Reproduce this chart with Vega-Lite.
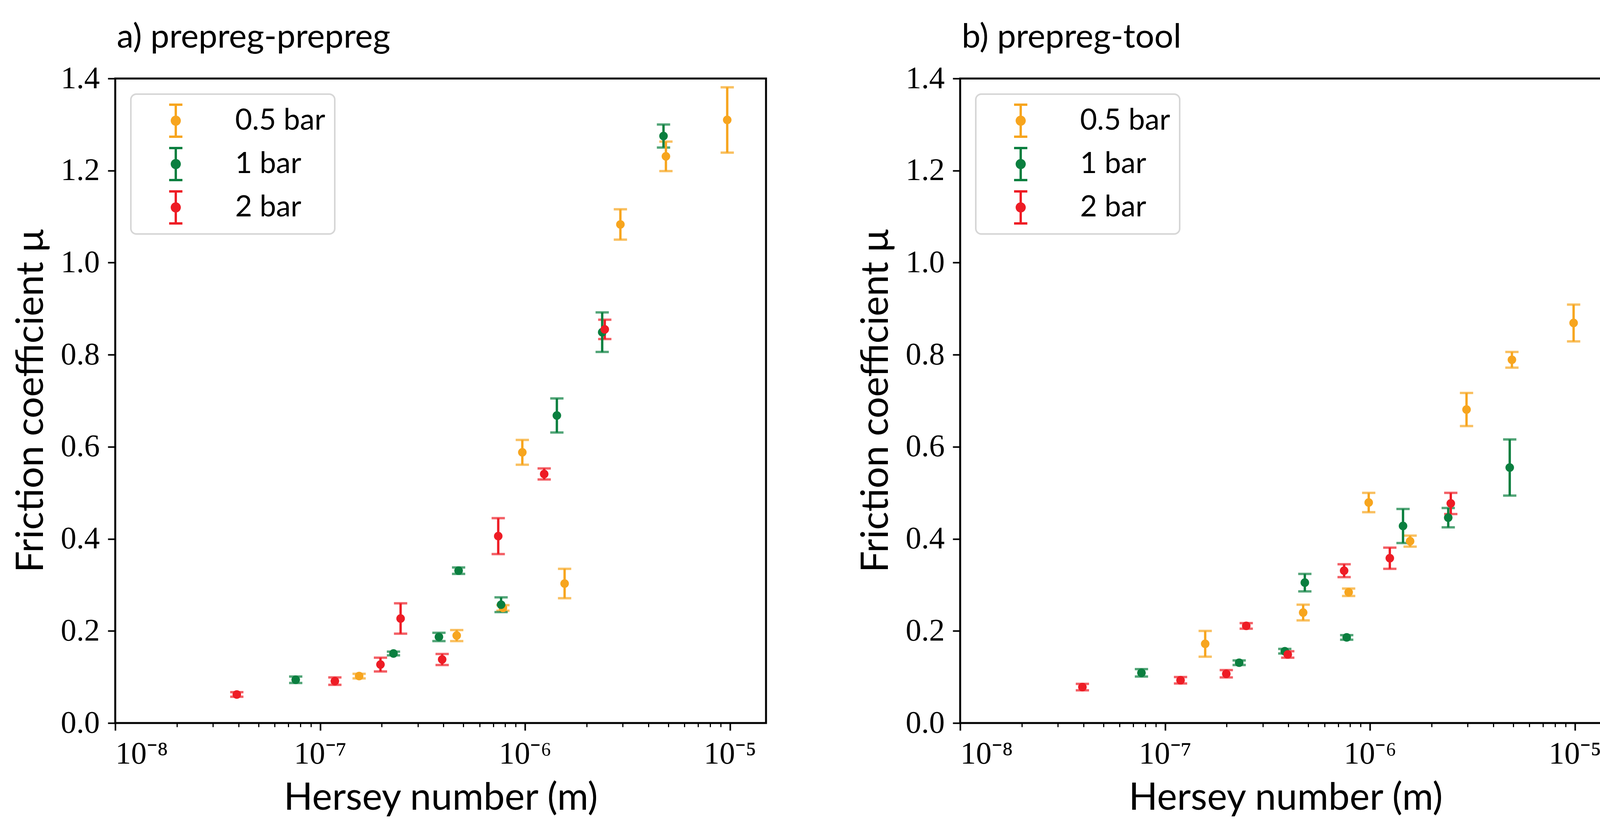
{
  "$schema": "https://vega.github.io/schema/vega-lite/v6.json",
  "background": "white",
  "padding": {"left": 28, "top": 50, "right": 0, "bottom": 0},
  "datasets": {
    "friction": [
      {"p": "a", "s": "0.5 bar", "h": 1.55e-7, "mu": 0.102, "err": 0.005},
      {"p": "a", "s": "0.5 bar", "h": 4.64e-7, "mu": 0.190, "err": 0.012},
      {"p": "a", "s": "0.5 bar", "h": 7.8e-7, "mu": 0.250, "err": 0.006},
      {"p": "a", "s": "0.5 bar", "h": 9.7e-7, "mu": 0.588, "err": 0.027},
      {"p": "a", "s": "0.5 bar", "h": 1.56e-6, "mu": 0.303, "err": 0.032},
      {"p": "a", "s": "0.5 bar", "h": 2.92e-6, "mu": 1.083, "err": 0.033},
      {"p": "a", "s": "0.5 bar", "h": 4.87e-6, "mu": 1.231, "err": 0.032},
      {"p": "a", "s": "0.5 bar", "h": 9.7e-6, "mu": 1.310, "err": 0.071},
      {"p": "a", "s": "1 bar", "h": 7.6e-8, "mu": 0.094, "err": 0.007},
      {"p": "a", "s": "1 bar", "h": 2.28e-7, "mu": 0.151, "err": 0.004},
      {"p": "a", "s": "1 bar", "h": 3.8e-7, "mu": 0.187, "err": 0.009},
      {"p": "a", "s": "1 bar", "h": 4.74e-7, "mu": 0.331, "err": 0.007},
      {"p": "a", "s": "1 bar", "h": 7.64e-7, "mu": 0.257, "err": 0.016},
      {"p": "a", "s": "1 bar", "h": 1.43e-6, "mu": 0.668, "err": 0.037},
      {"p": "a", "s": "1 bar", "h": 2.38e-6, "mu": 0.849, "err": 0.043},
      {"p": "a", "s": "1 bar", "h": 4.74e-6, "mu": 1.275, "err": 0.025},
      {"p": "a", "s": "2 bar", "h": 3.92e-8, "mu": 0.062, "err": 0.005},
      {"p": "a", "s": "2 bar", "h": 1.18e-7, "mu": 0.091, "err": 0.008},
      {"p": "a", "s": "2 bar", "h": 1.97e-7, "mu": 0.127, "err": 0.015},
      {"p": "a", "s": "2 bar", "h": 2.47e-7, "mu": 0.227, "err": 0.033},
      {"p": "a", "s": "2 bar", "h": 3.94e-7, "mu": 0.138, "err": 0.012},
      {"p": "a", "s": "2 bar", "h": 7.4e-7, "mu": 0.406, "err": 0.039},
      {"p": "a", "s": "2 bar", "h": 1.24e-6, "mu": 0.541, "err": 0.012},
      {"p": "a", "s": "2 bar", "h": 2.45e-6, "mu": 0.855, "err": 0.021},
      {"p": "b", "s": "0.5 bar", "h": 1.57e-7, "mu": 0.172, "err": 0.028},
      {"p": "b", "s": "0.5 bar", "h": 4.72e-7, "mu": 0.240, "err": 0.017},
      {"p": "b", "s": "0.5 bar", "h": 7.87e-7, "mu": 0.284, "err": 0.008},
      {"p": "b", "s": "0.5 bar", "h": 9.86e-7, "mu": 0.479, "err": 0.021},
      {"p": "b", "s": "0.5 bar", "h": 1.57e-6, "mu": 0.395, "err": 0.012},
      {"p": "b", "s": "0.5 bar", "h": 2.96e-6, "mu": 0.681, "err": 0.036},
      {"p": "b", "s": "0.5 bar", "h": 4.93e-6, "mu": 0.789, "err": 0.017},
      {"p": "b", "s": "0.5 bar", "h": 9.86e-6, "mu": 0.869, "err": 0.040},
      {"p": "b", "s": "1 bar", "h": 7.67e-8, "mu": 0.109, "err": 0.008},
      {"p": "b", "s": "1 bar", "h": 2.30e-7, "mu": 0.131, "err": 0.005},
      {"p": "b", "s": "1 bar", "h": 3.84e-7, "mu": 0.156, "err": 0.005},
      {"p": "b", "s": "1 bar", "h": 4.81e-7, "mu": 0.305, "err": 0.019},
      {"p": "b", "s": "1 bar", "h": 7.7e-7, "mu": 0.186, "err": 0.005},
      {"p": "b", "s": "1 bar", "h": 1.45e-6, "mu": 0.428, "err": 0.037},
      {"p": "b", "s": "1 bar", "h": 2.41e-6, "mu": 0.446, "err": 0.021},
      {"p": "b", "s": "1 bar", "h": 4.81e-6, "mu": 0.555, "err": 0.061},
      {"p": "b", "s": "2 bar", "h": 3.95e-8, "mu": 0.078, "err": 0.007},
      {"p": "b", "s": "2 bar", "h": 1.19e-7, "mu": 0.093, "err": 0.007},
      {"p": "b", "s": "2 bar", "h": 1.99e-7, "mu": 0.107, "err": 0.008},
      {"p": "b", "s": "2 bar", "h": 2.49e-7, "mu": 0.211, "err": 0.006},
      {"p": "b", "s": "2 bar", "h": 3.97e-7, "mu": 0.149, "err": 0.007},
      {"p": "b", "s": "2 bar", "h": 7.48e-7, "mu": 0.331, "err": 0.014},
      {"p": "b", "s": "2 bar", "h": 1.25e-6, "mu": 0.358, "err": 0.023},
      {"p": "b", "s": "2 bar", "h": 2.48e-6, "mu": 0.477, "err": 0.023}
    ]
  },
  "data": {"name": "friction"},
  "spacing": 227,
  "hconcat": [
    {
      "width": 1666,
      "height": 1650,
      "title": {"text": "a) prepreg-prepreg"},
      "transform": [{"filter": "datum.p == 'a'"}],
      "layer": [
        {
          "mark": {"type": "errorbar", "thickness": 6, "ticks": {"size": 34, "thickness": 6}},
          "encoding": {
            "x": {"field": "h", "type": "quantitative",
                  "scale": {"type": "log", "domain": [1e-8, 1.5e-5], "nice": false},
                  "axis": {"orient": "bottom", "labels": false, "title": null, "tickSize": 10, "tickWidth": 3,
                           "values": [2e-8, 3e-8, 4e-8, 5e-8, 6e-8, 7e-8, 8e-8, 9e-8, 2e-7, 3e-7, 4e-7, 5e-7, 6e-7, 7e-7, 8e-7, 9e-7, 2e-6, 3e-6, 4e-6, 5e-6, 6e-6, 7e-6, 8e-6, 9e-6]}},
            "y": {"field": "mu", "type": "quantitative",
                  "scale": {"domain": [0, 1.4], "nice": false},
                  "axis": {"values": [0, 0.2, 0.4, 0.6, 0.8, 1.0, 1.2, 1.4], "format": ".1f", "labelPadding": 21,
                           "title": "Friction coefficient μ", "titleX": -186, "titleY": 825, "titleAngle": 270, "titleBaseline": "alphabetic"}},
            "yError": {"field": "err"},
            "color": {"field": "s", "type": "nominal",
                      "scale": {"domain": ["0.5 bar", "1 bar", "2 bar"], "range": ["#F7A51E", "#0A7F3F", "#EE1C25"]}}
          }
        },
        {
          "mark": {"type": "point", "filled": true, "opacity": 1, "size": 480},
          "encoding": {
            "x": {"field": "h", "type": "quantitative",
                  "scale": {"type": "log", "domain": [1e-8, 1.5e-5], "nice": false},
                  "axis": {"orient": "bottom", "values": [1e-8, 1e-7, 1e-6, 1e-5],
                           "labelExpr": "'10' + ['⁻⁸', '⁻⁷', '⁻⁶', '⁻⁵'][round(log(datum.value) / LN10) + 8]",
                           "labelBaseline": "alphabetic", "labelPadding": 84,
                           "title": "Hersey number (m)", "titleY": 221, "titleBaseline": "alphabetic"}},
            "y": {"field": "mu", "type": "quantitative",
                  "scale": {"domain": [0, 1.4], "nice": false},
                  "axis": {"values": [0, 0.2, 0.4, 0.6, 0.8, 1.0, 1.2, 1.4], "format": ".1f", "labelPadding": 21,
                           "title": "Friction coefficient μ", "titleX": -186, "titleY": 825, "titleAngle": 270, "titleBaseline": "alphabetic"}},
            "color": {"field": "s", "type": "nominal",
                      "scale": {"domain": ["0.5 bar", "1 bar", "2 bar"], "range": ["#F7A51E", "#0A7F3F", "#EE1C25"]}}
          }
        }
      ],
      "resolve": {"axis": {"x": "independent"}}
    },
    {
      "width": 1666,
      "height": 1650,
      "title": {"text": "b) prepreg-tool"},
      "transform": [{"filter": "datum.p == 'b'"}],
      "layer": [
        {
          "mark": {"type": "errorbar", "thickness": 6, "ticks": {"size": 34, "thickness": 6}},
          "encoding": {
            "x": {"field": "h", "type": "quantitative",
                  "scale": {"type": "log", "domain": [1e-8, 1.5e-5], "nice": false},
                  "axis": {"orient": "bottom", "labels": false, "title": null, "tickSize": 10, "tickWidth": 3,
                           "values": [2e-8, 3e-8, 4e-8, 5e-8, 6e-8, 7e-8, 8e-8, 9e-8, 2e-7, 3e-7, 4e-7, 5e-7, 6e-7, 7e-7, 8e-7, 9e-7, 2e-6, 3e-6, 4e-6, 5e-6, 6e-6, 7e-6, 8e-6, 9e-6]}},
            "y": {"field": "mu", "type": "quantitative",
                  "scale": {"domain": [0, 1.4], "nice": false},
                  "axis": {"values": [0, 0.2, 0.4, 0.6, 0.8, 1.0, 1.2, 1.4], "format": ".1f", "labelPadding": 21,
                           "title": "Friction coefficient μ", "titleX": -186, "titleY": 825, "titleAngle": 270, "titleBaseline": "alphabetic"}},
            "yError": {"field": "err"},
            "color": {"field": "s", "type": "nominal",
                      "scale": {"domain": ["0.5 bar", "1 bar", "2 bar"], "range": ["#F7A51E", "#0A7F3F", "#EE1C25"]}}
          }
        },
        {
          "mark": {"type": "point", "filled": true, "opacity": 1, "size": 480},
          "encoding": {
            "x": {"field": "h", "type": "quantitative",
                  "scale": {"type": "log", "domain": [1e-8, 1.5e-5], "nice": false},
                  "axis": {"orient": "bottom", "values": [1e-8, 1e-7, 1e-6, 1e-5],
                           "labelExpr": "'10' + ['⁻⁸', '⁻⁷', '⁻⁶', '⁻⁵'][round(log(datum.value) / LN10) + 8]",
                           "labelBaseline": "alphabetic", "labelPadding": 84,
                           "title": "Hersey number (m)", "titleY": 221, "titleBaseline": "alphabetic"}},
            "y": {"field": "mu", "type": "quantitative",
                  "scale": {"domain": [0, 1.4], "nice": false},
                  "axis": {"values": [0, 0.2, 0.4, 0.6, 0.8, 1.0, 1.2, 1.4], "format": ".1f", "labelPadding": 21,
                           "title": "Friction coefficient μ", "titleX": -186, "titleY": 825, "titleAngle": 270, "titleBaseline": "alphabetic"}},
            "color": {"field": "s", "type": "nominal",
                      "scale": {"domain": ["0.5 bar", "1 bar", "2 bar"], "range": ["#F7A51E", "#0A7F3F", "#EE1C25"]}}
          }
        }
      ],
      "resolve": {"axis": {"x": "independent"}}
    }
  ],
  "resolve": {"legend": {"color": "independent"}},
  "config": {
    "view": {"stroke": "black", "strokeWidth": 5},
    "title": {"anchor": "start", "frame": "group", "font": "Lato", "fontSize": 86, "fontWeight": "normal",
              "color": "black", "baseline": "alphabetic", "offset": 21, "dx": 4},
    "axis": {"domain": false, "grid": false, "tickColor": "black", "tickWidth": 4, "tickSize": 19,
             "labelFont": "Liberation Serif", "labelFontSize": 80, "labelColor": "black",
             "titleFont": "Lato", "titleFontSize": 97, "titleFontWeight": "normal", "titleColor": "black"},
    "legend": {
      "title": null, "orient": "top-left", "offset": 40, "padding": 24,
      "symbolType": "M-0.386,-1H0.386V-0.864H0.068V0.864H0.386V1H-0.386V0.864H-0.068V-0.864H-0.386ZM0.295,0A0.295,0.295,0,1,1,-0.295,0A0.295,0.295,0,1,1,0.295,0Z",
      "symbolSize": 7744, "symbolOffset": 47, "labelOffset": 108, "rowPadding": 23,
      "symbolStrokeWidth": 0, "symbolOpacity": 1, "labelLimit": 600,
      "labelFont": "Lato", "labelFontSize": 75, "labelColor": "black",
      "strokeColor": "#d6d6d6", "strokeWidth": 4, "cornerRadius": 14, "fillColor": "white"
    }
  }
}
